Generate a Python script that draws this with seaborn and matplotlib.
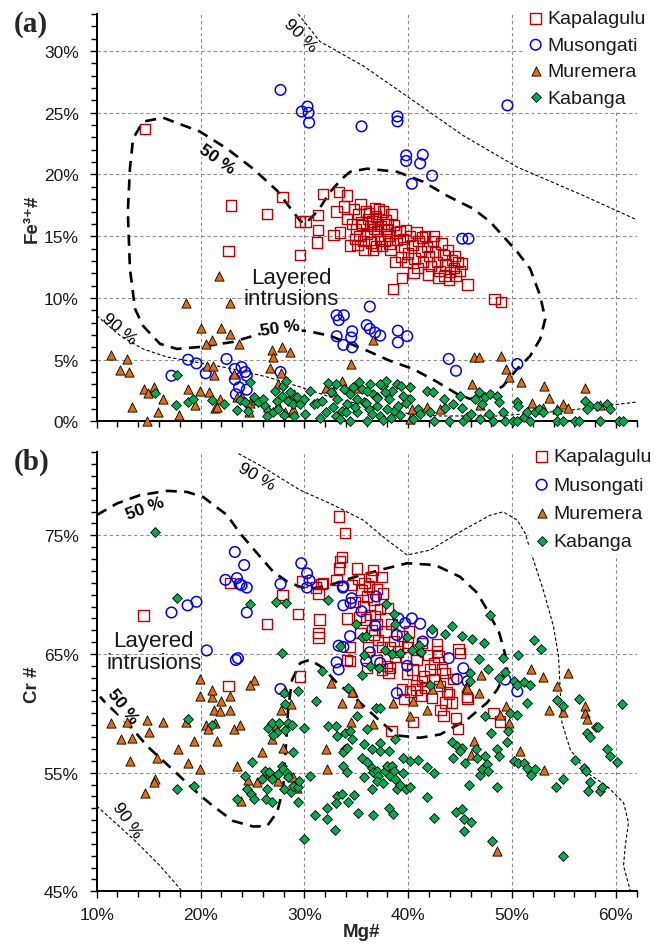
import numpy as np
import pandas as pd
import matplotlib
matplotlib.use("Agg")
import matplotlib.pyplot as plt
from matplotlib.ticker import MultipleLocator, FuncFormatter
import seaborn as sns

# ---------------- DATA: panel (a)  (Mg#, Fe3+#) in % ----------------
kap_a_x = [14.65, 22.9, 22.7, 26.4, 27.9, 29.6, 30.1, 29.6, 31.3, 31.3, 31.2, 31.8, 33.3, 34.1, 33.8, 33.1, 32.8, 33.4, 34.1, 34.4,
           38.5, 45.7, 48.3, 48.9,
           34.8, 35.2, 35.5, 35.0, 35.3, 35.7, 35.9, 36.1, 36.3, 36.0, 36.4, 36.6, 36.8, 36.9, 37.1, 37.0, 37.3, 37.5, 37.6, 37.8,
           37.9, 38.1, 38.2, 38.4, 38.6, 38.8, 38.9, 35.6, 36.7, 37.4, 36.2, 37.7, 34.9, 35.8, 36.5, 37.2, 38.0, 35.4, 36.9, 38.3,
           34.6, 35.1,
           39.2, 39.5, 39.8, 39.6, 40.0, 40.2, 40.4, 40.6, 40.8, 41.0, 41.2, 41.4, 41.6, 41.8, 42.0, 42.2, 42.4, 42.6, 42.8, 43.0,
           43.2, 43.4, 43.6, 43.8, 44.0, 44.2, 44.4, 44.6, 44.8, 45.0, 45.2, 39.9, 40.9, 41.9, 42.9, 43.9, 41.3, 40.5, 39.3, 42.5,
           43.5, 44.5, 38.7, 39.4]
kap_a_y = [23.7, 17.5, 13.8, 16.8, 18.2, 16.2, 16.2, 13.5, 16.7, 15.5, 14.5, 18.4, 18.6, 18.3, 17.4, 17.0, 15.1, 15.3, 16.4, 14.25,
           10.7, 11.1, 9.9, 9.65,
           17.2, 16.8, 16.1, 15.6, 15.0, 14.6, 17.0, 16.4, 15.8, 15.2, 14.5, 13.9, 17.3, 16.6, 16.0, 15.4, 14.8, 14.2, 17.0, 16.3,
           15.6, 15.0, 14.4, 16.8, 15.9, 15.3, 14.7, 15.9, 15.6, 15.8, 16.9, 14.6, 14.8, 13.9, 16.2, 17.2, 16.0, 17.6, 14.2, 13.9,
           16.0, 14.3,
           15.4, 14.8, 15.5, 14.1, 13.6, 15.0, 14.3, 13.2, 15.3, 14.6, 13.8, 12.9, 15.0, 14.1, 13.4, 12.6, 14.6, 13.7, 12.9, 12.2,
           14.4, 13.5, 12.7, 13.9, 12.1, 13.1, 12.4, 11.8, 12.9, 12.2, 12.8, 12.9, 12.4, 11.9, 11.6, 11.5, 14.9, 12.0, 13.3, 15.0,
           11.8, 13.4, 12.9, 11.6]

mus_a_x = [27.7, 29.75, 30.3, 30.4, 30.45, 35.5, 38.96, 38.96, 49.55, 39.8, 39.8, 41.4, 41.15, 42.3, 40.35, 45.2, 45.8,
           36.3, 33.1, 33.8, 33.3, 34.6, 34.5, 33.1, 33.75, 34.6, 36.0, 36.3, 36.8, 37.3, 39.0, 39.9, 39.0, 43.9, 44.6, 50.5,
           17.2, 18.8, 19.6, 20.5, 22.5, 23.3, 23.95, 24.3, 24.45, 23.3, 23.7, 24.45, 23.4, 27.7]
mus_a_y = [26.85, 25.1, 25.5, 25.0, 24.2, 23.9, 24.7, 24.3, 25.6, 21.55, 21.1, 21.6, 20.9, 19.9, 19.25, 14.8, 14.8,
           9.3, 8.6, 8.6, 8.2, 7.3, 6.8, 6.9, 6.2, 6.0, 7.8, 7.5, 7.2, 6.95, 7.35, 6.9, 6.4, 5.06, 4.1, 4.65,
           3.7, 5.0, 4.7, 3.9, 5.06, 4.25, 4.4, 4.0, 3.7, 3.4, 2.76, 2.57, 2.2, 4.0]

mur_a_x = [21.8, 18.6, 22.8, 20.0, 21.95, 22.85, 21.1, 20.5, 23.7, 11.35, 12.95, 12.25, 13.1, 20.6, 21.2, 21.3, 23.25,
           26.9, 27.0, 27.8, 28.6, 26.7, 27.7, 27.5, 13.4, 14.8, 14.55, 14.97, 15.5, 16.4, 15.9, 17.9, 18.8, 19.5, 19.95,
           20.85, 21.9, 21.4, 21.6, 23.5, 23.95, 24.8, 24.7, 25.25, 27.5, 28.95, 29.0, 28.1, 36.6, 34.5, 46.35, 46.8, 48.9,
           49.4, 49.75, 50.85, 46.1, 53.1, 53.6, 57.05, 33.6, 32.1, 32.8, 34.7, 35.2, 51.9, 53.0, 54.3, 54.95, 55.4, 40.35,
           41.8, 43.1, 40.2, 46.9, 58.5]
mur_a_y = [11.8, 9.6, 9.6, 7.6, 7.55, 7.1, 6.6, 6.3, 6.3, 5.4, 5.06, 4.2, 4.0, 4.5, 4.45, 3.75, 3.85,
           5.8, 5.2, 6.0, 5.65, 4.3, 3.9, 3.0, 1.15, 0.0, 2.6, 2.3, 2.75, 1.8, 0.74, 0.5, 2.6, 1.3, 2.5,
           2.35, 1.8, 1.05, 1.2, 2.0, 1.95, 1.5, 0.8, 1.7, 1.3, 1.0, 2.2, 0.74, 6.6, 4.65, 5.2, 5.2, 5.3,
           4.25, 3.6, 3.2, 3.0, 2.85, 1.9, 2.7, 3.3, 2.7, 2.5, 2.75, 2.7, 1.5, 1.06, 1.0, 1.4, 1.06, 1.0,
           1.15, 1.0, 0.2, 1.3, 1.3]

kab_a_x = [17.7, 15.6, 17.6, 18.8, 19.3, 21.1, 22.3, 23.55, 23.8, 24.6, 24.8, 24.3, 25.1, 25.5, 26.05, 26.2, 26.5, 26.4,
           27.0, 27.2, 27.35, 27.5, 27.8, 27.95, 28.2, 28.45, 28.6, 28.95, 29.3, 29.6, 30.0, 30.1, 30.9, 31.2, 31.7, 32.1,
           32.3, 32.6, 33.0, 33.1, 33.6, 33.0, 34.1, 34.4, 34.7, 35.05, 35.5, 35.7, 36.2, 36.3, 36.65, 36.97, 37.3, 37.6,
           37.9, 38.1, 38.4, 38.6, 38.9, 39.05, 39.5, 37.6, 36.0, 34.4, 33.4, 35.05, 36.97, 37.3, 40.2, 40.2, 40.9, 41.1,
           41.8, 42.4, 42.1, 42.45, 43.4, 43.55, 43.9, 44.35, 45.0, 45.2, 45.3, 45.65, 46.0, 46.45, 46.8, 46.9, 47.1, 47.4,
           47.75, 47.9, 48.2, 48.5, 48.7, 49.1, 49.3, 50.1, 50.5, 50.6, 50.5, 51.1, 51.4, 51.75, 52.2, 52.55, 53.0, 54.3,
           54.3, 54.95, 56.1, 56.4, 57.05, 57.5, 58.2, 58.5, 59.1, 59.4, 60.25, 60.7, 57.2,
           32.8, 33.8, 34.9, 35.3, 36.0, 36.5, 37.0, 38.0, 38.3, 39.2, 39.8, 40.5, 34.0, 35.9, 37.8, 39.3, 31.5, 30.5,
           29.0, 28.0]
kab_a_y = [3.75, 2.3, 1.33, 1.6, 1.8, 1.73, 1.4, 0.93, 1.73, 0.85, 3.17, 1.6, 1.95, 1.55, 1.8, 1.27, 0.87, 0.46,
           0.74, 2.44, 1.68, 1.0, 2.03, 2.9, 3.3, 1.68, 2.36, 1.41, 1.95, 1.4, 1.8, 0.6, 1.41, 1.5, 1.68, 0.74,
           3.1, 2.4, 3.0, 1.8, 0.87, 0.46, 1.4, 2.2, 2.76, 0.74, 2.6, 1.55, 1.0, 3.0, 2.2, 1.27, 0.46, 2.9,
           3.3, 1.8, 2.5, 0.87, 3.0, 1.27, 2.08, 0.15, 0.05, 0.05, 0.2, 1.8, 1.95, 3.0, 2.76, 1.8, 1.0, 0.6,
           2.5, 2.36, 0.74, 0.06, 1.8, 1.06, 0.0, 1.41, 2.08, 1.06, 0.0, 0.33, 0.6, 1.8, 2.36, 0.2, 1.41, 1.95,
           0.6, 2.2, 0.06, 2.08, 1.55, 0.74, 0.06, 0.0, 1.55, 1.27, 0.06, 0.33, 0.74, 0.06, 0.74, 1.0, 0.74, 0.87,
           0.0, 0.0, 0.0, 0.06, 1.68, 1.27, 1.27, 0.0, 1.41, 1.0, 0.0, 0.0, 1.0,
           1.2, 2.6, 1.2, 3.2, 2.5, 0.6, 1.9, 1.0, 0.3, 0.5, 1.5, 0.2, 0.8, 1.5, 2.4, 2.9, 0.3, 2.5,
           0.4, 0.5]

# ---------------- DATA: panel (b)  (Mg#, Cr#) in % ----------------
kap_b_x = [14.5, 22.85, 26.4, 27.9, 29.4, 29.75, 31.35, 31.45, 31.35, 31.35, 31.65, 31.15, 29.6, 22.7, 33.3, 33.9, 33.6,
           33.4, 33.3, 35.05, 36.6, 37.5, 31.8, 33.1, 34.1, 34.4, 34.1, 34.4, 35.5, 36.0, 35.7, 36.65, 36.3, 36.8, 36.95,
           37.1, 38.4, 37.6, 35.4, 36.15, 37.5, 38.25, 39.4, 40.0, 38.75, 36.95, 36.0, 37.5, 37.95, 38.25, 38.1, 39.9,
           41.3, 42.75, 42.75, 42.9, 44.85, 45.0, 40.8, 42.45, 42.1, 43.25, 43.55, 41.5, 41.3, 40.8, 41.65, 39.4, 40.8,
           43.9, 45.65, 39.6, 40.45, 38.4, 42.3, 43.1, 43.4, 43.6, 44.2, 44.6, 44.8, 45.7, 48.2, 48.85, 40.2, 43.7,
           35.2, 35.8, 36.2, 34.9, 35.3, 36.5, 37.3, 37.0, 35.9, 36.7, 38.0, 37.8, 36.4, 34.6, 38.6, 39.0, 39.8, 40.4,
           41.9, 42.5, 43.0, 44.3, 40.1, 41.2, 39.9]
kap_b_y = [68.25, 71.0, 67.55, 70.0, 68.4, 71.1, 70.07, 67.9, 66.75, 66.4, 70.9, 70.6, 63.1, 62.3, 76.6, 75.2, 73.2,
           72.8, 72.2, 72.2, 72.1, 71.5, 71.0, 71.25, 68.0, 65.6, 64.5, 64.4, 70.4, 69.85, 69.0, 69.6, 68.3, 68.2, 67.5,
           66.2, 67.5, 70.1, 66.75, 65.6, 65.6, 65.6, 66.5, 65.9, 64.8, 64.5, 63.8, 63.7, 64.0, 63.8, 63.4, 65.6,
           65.9, 65.8, 65.2, 64.8, 65.4, 65.1, 64.5, 64.2, 63.7, 63.7, 63.4, 63.1, 62.7, 62.4, 62.15, 62.0, 62.0,
           61.6, 61.4, 61.2, 59.25, 58.5, 61.3, 60.3, 59.75, 60.9, 60.9, 59.6, 58.7, 61.2, 60.0, 59.3, 61.85, 61.8,
           71.3, 71.0, 70.7, 69.4, 68.1, 67.0, 68.8, 70.5, 67.9, 66.6, 68.9, 66.9, 71.5, 70.8, 66.1, 65.2, 64.7, 63.7,
           64.9, 62.9, 62.3, 62.9, 66.9, 61.5, 63.3]

mus_b_x = [17.2, 18.75, 19.6, 20.6, 22.4, 23.3, 23.5, 23.75, 23.95, 24.2, 24.45, 24.45, 23.4, 23.6, 27.7, 29.7, 30.25,
           30.5, 30.25, 27.7, 33.7, 34.55, 33.75, 34.45, 35.5, 36.9, 36.8, 39.05, 39.7, 40.35, 41.15, 38.9, 34.4, 33.75,
           33.3, 36.3, 35.95, 37.3, 33.1, 33.3, 39.9, 41.4, 42.3, 43.9, 45.3, 44.7, 45.7, 38.9, 49.35, 50.5, 33.75]
mus_b_y = [68.5, 69.1, 69.4, 65.3, 71.25, 73.6, 71.4, 70.9, 70.8, 72.5, 70.6, 68.5, 64.5, 64.65, 70.9, 72.65, 71.8,
           71.2, 70.6, 62.05, 70.6, 69.7, 69.1, 69.3, 68.6, 69.85, 67.4, 68.0, 67.6, 68.0, 67.55, 66.6, 66.5, 65.6,
           65.7, 65.15, 64.4, 64.25, 64.3, 63.7, 64.0, 66.05, 66.8, 64.65, 63.8, 62.9, 62.7, 61.7, 62.85, 61.85, 70.7]

mur_b_x = [11.4, 12.3, 12.95, 13.4, 13.2, 14.8, 15.0, 14.65, 15.85, 15.6, 15.5, 16.4, 17.85, 18.6, 18.75, 19.4, 19.95,
           20.5, 20.7, 21.1, 21.4, 21.6, 19.9, 21.3, 21.9, 22.0, 22.85, 22.85, 23.2, 23.8, 23.55, 24.6, 25.4, 23.9, 25.9,
           26.7, 26.9, 27.05, 27.5, 27.7, 27.9, 28.1, 28.7, 28.9, 29.3, 21.1, 19.95, 25.15, 24.8, 33.6, 34.65, 35.2, 34.5,
           36.6, 38.5, 40.2, 40.45, 41.8, 46.8, 46.35, 46.05, 49.4, 48.85, 49.75, 50.8, 53.1, 53.6, 54.9, 57.05, 57.05,
           57.2, 48.5, 32.15, 32.1, 51.8, 53.0, 55.35, 54.3, 47.0, 45.6, 32.6, 34.6, 43.1, 42.3, 45.65]
mur_b_y = [59.2, 57.8, 59.3, 57.9, 56.0, 59.4, 58.4, 53.3, 56.25, 54.5, 54.2, 59.3, 57.0, 59.3, 55.85, 57.65, 61.45,
           59.05, 58.65, 61.4, 59.2, 57.65, 55.3, 60.25, 60.2, 61.0, 61.45, 60.3, 58.7, 59.05, 55.6, 54.4, 54.25, 52.6, 56.75,
           55.0, 57.8, 59.0, 54.3, 60.3, 57.1, 61.85, 60.8, 54.6, 53.7, 62.0, 62.9, 62.8, 62.35, 60.9, 61.8, 60.9, 59.3,
           59.1, 60.9, 59.8, 61.0, 60.3, 61.7, 57.65, 56.45, 60.65, 59.9, 59.2, 56.8, 55.2, 60.25, 60.1, 60.65, 60.0,
           59.55, 48.4, 55.3, 57.0, 63.7, 63.1, 63.4, 62.3, 63.25, 62.25, 62.55, 61.8, 62.55, 62.05, 62.15]

kab_b_x = [15.6, 17.75, 24.8, 27.3, 28.25, 27.8, 31.7, 32.3, 18.8, 17.7, 19.4, 21.1, 24.3, 24.5, 25.0, 24.9, 25.1, 23.55,
           25.9, 26.2, 26.4, 26.3, 26.85, 26.5, 26.9, 27.35, 27.0, 27.6, 28.15, 28.15, 28.0, 28.45, 28.85, 28.95, 27.8, 27.5,
           27.9, 28.3, 28.0, 28.45, 28.7, 28.95, 29.4, 29.45, 29.4, 30.0, 30.55, 30.0, 31.0, 31.15, 32.15, 32.15, 32.3, 29.4,
           26.55, 26.85, 33.0, 33.1, 33.9, 34.4, 34.6, 33.9, 33.75, 34.1, 35.7, 36.0, 36.5, 37.3, 37.25, 38.1, 38.75, 33.75,
           34.1, 35.5, 35.7, 36.0, 36.5, 36.65, 37.0, 37.1, 37.0, 37.6, 37.8, 37.95, 38.2, 38.4, 38.65, 38.75, 38.9, 39.2,
           39.5, 39.8, 40.2, 39.5, 40.2, 40.9, 36.5, 33.1, 33.6, 34.2, 34.8, 33.05, 35.2, 36.6, 38.1, 38.5, 32.95, 35.05,
           36.9, 37.3, 41.8, 42.45, 41.8, 42.45, 44.2, 44.35, 44.6, 45.2, 45.35, 45.4, 46.05, 45.85, 44.7, 45.2, 45.0, 45.5,
           46.55, 46.6, 46.9, 47.1, 47.4, 47.55, 47.7, 47.95, 47.4, 48.1, 48.5, 48.5, 48.7, 49.5, 49.65, 49.8, 50.5, 50.15,
           50.6, 51.1, 51.4, 51.4, 51.8, 52.2, 54.25, 54.9, 54.9, 54.3, 54.95, 56.1, 56.4, 56.95, 57.15, 57.35, 57.5, 57.2,
           57.5, 58.1, 58.3, 58.5, 58.65, 59.1, 59.4, 60.15, 60.6, 37.9, 38.65, 35.0, 35.5, 35.9, 37.8, 38.4, 39.9, 40.35,
           41.15, 41.0, 42.3, 43.55, 44.2, 45.2, 46.15, 47.3, 47.9, 46.8, 47.7, 49.1, 49.35, 50.6, 52.15, 52.8, 48.7, 50.15,
           50.5, 51.1, 51.7, 45.9, 45.9, 38.75, 35.7, 36.3, 37.2, 39.2, 41.25, 35.5, 33.4, 34.2, 42.1]
kab_b_y = [75.3, 69.7, 69.2, 69.35, 69.3, 65.1, 63.55, 69.55, 59.55, 53.6, 53.9, 59.05, 54.7, 53.6, 55.9, 53.2, 52.8, 52.8,
           54.5, 55.15, 53.65, 52.75, 52.5, 58.8, 59.2, 58.4, 58.2, 59.2, 58.6, 60.8, 61.75, 59.15, 59.05, 56.7, 55.6, 54.85,
           55.3, 55.0, 53.65, 54.65, 53.4, 53.9, 53.75, 54.3, 52.5, 58.8, 54.7, 49.45, 51.45, 61.0, 52.05, 51.1, 58.9, 61.85,
           55.05, 54.45, 58.9, 58.1, 58.35, 58.5, 57.8, 57.0, 56.7, 57.1, 57.4, 58.7, 57.0, 57.5, 56.8, 56.8, 57.8, 55.6,
           55.05, 56.2, 54.6, 55.9, 55.4, 55.05, 55.15, 54.7, 54.3, 54.15, 55.15, 55.55, 54.7, 55.6, 55.15, 54.45, 53.65, 54.0,
           55.0, 53.65, 53.8, 56.25, 56.0, 56.1, 53.6, 53.05, 53.2, 52.5, 53.1, 52.4, 51.6, 51.45, 52.05, 51.5, 50.15, 59.75,
           60.45, 60.45, 55.5, 54.95, 52.95, 51.15, 57.55, 56.2, 51.65, 51.9, 51.1, 50.1, 50.85, 54.0, 57.25, 57.1, 56.8, 55.8,
           57.0, 56.25, 54.8, 55.3, 56.4, 55.7, 55.15, 58.35, 59.8, 49.25, 53.8, 57.0, 56.4, 57.55, 58.5, 60.05, 59.9, 56.0,
           55.85, 55.8, 55.4, 60.9, 54.8, 55.3, 53.75, 54.5, 47.95, 61.15, 60.6, 56.1, 61.2, 55.4, 55.15, 53.45, 54.2, 58.35,
           58.0, 58.85, 58.85, 53.45, 53.8, 57.0, 56.4, 55.9, 60.8, 69.2, 68.4, 67.55, 66.4, 66.5, 65.35, 65.0, 66.4, 65.3,
           65.15, 65.8, 67.1, 66.7, 67.4, 66.55, 66.3, 65.9, 68.3, 64.6, 63.75, 64.65, 63.5, 64.95, 66.15, 65.4, 63.0, 62.7,
           62.4, 62.6, 62.4, 63.4, 62.7, 67.5, 64.95, 64.0, 63.8, 65.05, 65.15, 63.25, 65.7, 62.15, 62.4]

# ---------------- Density contours ----------------
c50a_x = [19.95, 17.74, 16.1, 14.46, 13.69, 13.2, 13.0, 13.2, 13.5, 14.46, 16.39, 19.95, 22.55, 25.06, 27.37, 28.91, 29.59,
          30.07, 31.32, 32.48, 33.63, 34.4, 36.04, 38.93, 41.43, 43.74, 46.25, 47.89, 50.49, 51.74, 52.71, 53.19, 52.71,
          51.74, 50.49, 49.14, 47.89, 45.96, 44.71, 42.78, 40.47, 38.26, 35.66, 32.48, 30.26, 27.95, 25.73, 23.13, 19.95]
c50a_y = [6.03, 5.87, 6.28, 7.74, 9.12, 12.36, 16.98, 20.47, 22.9, 24.28, 24.6, 23.47, 22.09, 20.47, 18.69, 16.98, 16.25,
          16.0, 17.06, 18.6, 19.66, 20.22, 20.47, 20.22, 19.42, 18.28, 17.23, 16.17, 13.74, 12.36, 10.17, 8.3, 6.68,
          5.3, 4.25, 2.87, 2.22, 1.82, 2.22, 3.2, 4.25, 4.9, 5.87, 6.93, 7.33, 7.41, 7.09, 6.44, 6.03]
c90a_up_x = [29.4, 31.5, 35.66, 40.2, 45.3, 50.5, 56.85, 62.0]
c90a_up_y = [33.0, 30.77, 28.8, 26.15, 23.15, 20.6, 18.3, 16.33]
c90a_lo_x = [10.0, 12.25, 14.46, 16.77, 19.95, 23.13, 26.4, 29.6, 32.48, 35.66, 40.2, 43.1, 48.6, 54.9, 62.0]
c90a_lo_y = [8.57, 6.95, 5.87, 5.22, 4.74, 4.25, 3.6, 2.79, 1.98, 1.33, 0.6, 0.44, 0.44, 0.84, 1.57]

c50b_x = [10.0, 11.96, 14.17, 16.77, 18.7, 20.24, 22.55, 23.81, 25.45, 26.99, 28.34, 29.59, 30.55, 32.48, 34.88, 37.29,
          39.89, 42.59, 45.0, 46.64, 47.6, 48.76, 49.34, 49.53, 48.57, 47.6, 45.67, 43.07, 41.14, 38.93, 37.29, 34.69,
          33.15, 31.8, 30.55, 29.59, 28.82, 28.43, 28.14, 27.95, 27.37, 26.4, 25.06, 23.13, 21.2, 19.95, 18.31, 16.77,
          14.85, 13.5, 12.25, 11.0, 10.32]
c50b_y = [76.71, 77.69, 78.39, 78.75, 78.66, 78.24, 76.71, 75.17, 73.49, 71.94, 71.1, 70.66, 70.49, 70.82, 71.5, 72.08,
          72.65, 72.5, 71.5, 70.15, 68.72, 66.79, 64.94, 63.68, 62.0, 60.9, 59.47, 58.22, 57.94, 58.13, 59.34, 61.44,
          62.56, 63.82, 64.52, 64.24, 62.84, 60.32, 56.12, 53.6, 51.66, 50.49, 50.46, 50.93, 52.19, 53.09, 54.44, 55.7,
          57.24, 58.64, 59.76, 60.74, 61.41]
c90b_up_x = [23.64, 25.73, 29.59, 32.48, 35.66, 37.97, 39.9, 42.11, 45.3, 47.9, 49.14, 50.49, 51.26, 51.9, 53.0, 53.99,
             54.47, 54.63, 54.8, 55.6, 57.2, 59.13, 60.73, 61.21, 60.9, 60.73, 61.38]
c90b_up_y = [81.89, 80.9, 78.81, 77.69, 76.29, 74.6, 73.34, 73.76, 75.45, 76.7, 76.98, 76.29, 75.17, 73.34, 70.4, 67.32,
             64.8, 62.0, 59.2, 56.96, 55.0, 53.87, 52.48, 50.8, 48.83, 47.15, 45.05]
c90b_lo_x = [10.0, 13.53, 16.1, 18.19]
c90b_lo_y = [52.19, 49.4, 47.15, 45.05]

series_names = ["Kapalagulu", "Musongati", "Muremera", "Kabanga"]

# ---------------- STYLE ----------------
sns.set_style("white")
plt.rcParams['font.family'] = ['Liberation Sans', 'DejaVu Sans']
plt.rcParams['axes.unicode_minus'] = False

W, H = 660, 945
fig = plt.figure(figsize=(W / 100, H / 100), dpi=100)

def fx(px):
    return px / W

def fy(py):
    return 1 - py / H

L, R = 96.7, 636.7
ax_a = fig.add_axes([fx(L), fy(422.4), (R - L) / W, (422.4 - 15) / H])
ax_b = fig.add_axes([fx(L), fy(892.3), (R - L) / W, (892.3 - 453.3) / H])

styles = {
    "Kapalagulu": dict(marker='s', s=55, facecolors='none', edgecolor='#C00000', linewidth=1.0),
    "Musongati": dict(marker='o', s=58, facecolors='none', edgecolor='#0000FF', linewidth=1.1),
    "Muremera": dict(marker='^', s=44, color='#E46C0A', edgecolor='black', linewidth=0.6),
    "Kabanga": dict(marker='D', s=25, color='#00AC50', edgecolor='black', linewidth=0.6),
}

panel_a = {"Kapalagulu": (kap_a_x, kap_a_y), "Musongati": (mus_a_x, mus_a_y),
           "Muremera": (mur_a_x, mur_a_y), "Kabanga": (kab_a_x, kab_a_y)}
panel_b = {"Kapalagulu": (kap_b_x, kap_b_y), "Musongati": (mus_b_x, mus_b_y),
           "Muremera": (mur_b_x, mur_b_y), "Kabanga": (kab_b_x, kab_b_y)}

def pct(v, pos):
    return f"{v:.0f}%"

def style_axes(ax, ymin, ymax, ymajor, show_xlabels):
    ax.set_xlim(10, 62)
    ax.set_ylim(ymin, ymax)
    for sp in ['top', 'right']:
        ax.spines[sp].set_visible(False)
    for sp in ['left', 'bottom']:
        ax.spines[sp].set_linewidth(1.4)
        ax.spines[sp].set_color('black')
    ax.xaxis.set_major_locator(MultipleLocator(10))
    ax.xaxis.set_minor_locator(MultipleLocator(2))
    ax.yaxis.set_major_locator(MultipleLocator(ymajor))
    ax.yaxis.set_minor_locator(MultipleLocator(1))
    ax.xaxis.set_major_formatter(FuncFormatter(pct))
    ax.yaxis.set_major_formatter(FuncFormatter(pct))
    ax.tick_params(axis='both', which='both', direction='out', color='black', width=1.0,
                   left=True, bottom=True, top=False, right=False)
    ax.tick_params(axis='both', which='major', length=5, labelsize=12.5, labelcolor='#1a1a1a')
    ax.tick_params(axis='both', which='minor', length=4)
    ax.tick_params(axis='y', which='major', pad=8)
    ax.tick_params(axis='x', which='major', pad=6, labelbottom=show_xlabels)
    ax.grid(True, which='major', axis='both', color='#8c8c8c', linestyle=(0, (3, 2.5)), linewidth=0.8)
    ax.set_axisbelow(True)

def draw_points(ax, data):
    for name in series_names:
        xs, ys = data[name]
        df = pd.DataFrame({"Mg": xs, "v": ys})
        sns.scatterplot(data=df, x="Mg", y="v", ax=ax, label=name, clip_on=False, zorder=3,
                        legend=False, **styles[name])

def contour(ax, xs, ys, kind):
    if kind == 50:
        ax.plot(xs, ys, color='black', linewidth=1.9, linestyle=(0, (4.2, 2.8)), zorder=2,
                dash_capstyle='butt', dash_joinstyle='round')
    else:
        ax.plot(xs, ys, color='black', linewidth=0.8, linestyle=(0, (3, 2)), zorder=2)

def clabel(ax, x, y, txt, rot, bold, box=False):
    kw = dict(fontsize=12.5, rotation=rot, ha='center', va='center', zorder=2.5,
              fontweight='bold' if bold else 'normal', color='black', rotation_mode='anchor')
    if box:
        kw['bbox'] = dict(facecolor='white', edgecolor='none', pad=0.5)
    ax.text(x, y, txt, **kw)

# ---------------- Panel (a) ----------------
style_axes(ax_a, 0, 33, 5, False)
contour(ax_a, c50a_x, c50a_y, 50)
contour(ax_a, c90a_up_x, c90a_up_y, 90)
contour(ax_a, c90a_lo_x, c90a_lo_y, 90)
draw_points(ax_a, panel_a)
clabel(ax_a, 21.6, 21.3, "50 %", -35, True, box=True)
clabel(ax_a, 27.7, 7.6, "50 %", 8, True, box=True)
clabel(ax_a, 29.6, 31.3, "90 %", -45, False)
clabel(ax_a, 12.2, 7.5, "90 %", -40, False)
ax_a.text(28.7, 10.8, "Layered\nintrusions", fontsize=16, ha='center', va='center', linespacing=1.05,
          zorder=2.5, color='#1a1a1a')
ax_a.set_xlabel("")
ax_a.set_ylabel("Fe³⁺#", fontsize=13.5, fontweight='bold')
ax_a.yaxis.set_label_coords((41 - L) / (R - L), 0.5)

# ---------------- Panel (b) ----------------
style_axes(ax_b, 45, 82, 10, True)
ax_b.yaxis.set_major_locator(plt.FixedLocator([45, 55, 65, 75]))
contour(ax_b, c50b_x, c50b_y, 50)
contour(ax_b, c90b_up_x, c90b_up_y, 90)
contour(ax_b, c90b_lo_x, c90b_lo_y, 90)
draw_points(ax_b, panel_b)
clabel(ax_b, 14.65, 77.3, "50 %", 20, True)
clabel(ax_b, 12.5, 60.6, "50 %", -52, True, box=True)
clabel(ax_b, 25.4, 80.0, "90 %", -30, False)
clabel(ax_b, 12.9, 51.0, "90 %", -55, False)
ax_b.text(15.5, 65.2, "Layered\nintrusions", fontsize=16, ha='center', va='center', linespacing=1.05,
          zorder=2.5, color='#1a1a1a')
ax_b.set_ylabel("Cr #", fontsize=13.5, fontweight='bold')
ax_b.yaxis.set_label_coords((41 - L) / (R - L), (892.3 - 685) / (892.3 - 453.3))
ax_b.set_xlabel("Mg#", fontsize=13.5, fontweight='bold')
ax_b.xaxis.set_label_coords((361 - L) / (R - L), -(924 - 892.3) / (892.3 - 453.3))

# ---------------- Legends ----------------
for ax, top_px, left_px, spacing in [(ax_a, 6, 523, 0.45), (ax_b, 444, 529, 0.55)]:
    h, l = ax.get_legend_handles_labels()
    leg = ax.legend(h, l, loc='upper left', bbox_to_anchor=(fx(left_px), fy(top_px)),
                    bbox_transform=fig.transFigure, frameon=True, fancybox=False,
                    facecolor='white', edgecolor='none', framealpha=1.0, fontsize=14,
                    handlelength=0.8, handletextpad=0.2, labelspacing=spacing, borderpad=0.25,
                    borderaxespad=0, scatterpoints=1)
    for t in leg.get_texts():
        t.set_color('#1a1a1a')
    leg.set_zorder(5)

# ---------------- Panel tags ----------------
fig.text(fx(31), fy(25), "(a)", fontsize=21, fontweight='bold', family='Liberation Serif',
         ha='center', va='center')
fig.text(fx(32), fy(462), "(b)", fontsize=21, fontweight='bold', family='Liberation Serif',
         ha='center', va='center')

fig.savefig("out.png", dpi=100)
